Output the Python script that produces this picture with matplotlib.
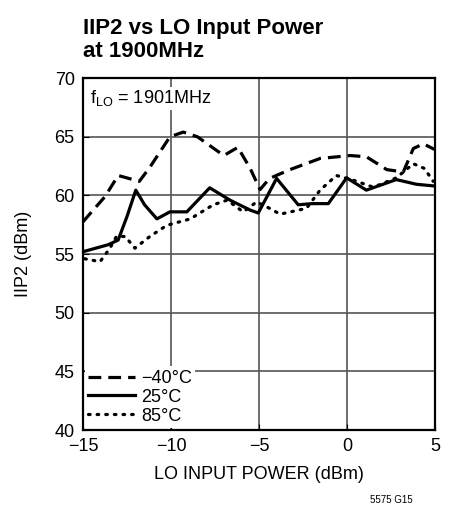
import matplotlib
matplotlib.use("Agg")
import matplotlib.pyplot as plt
from matplotlib import font_manager

# pick a narrow font if available
fams = [f.name for f in font_manager.fontManager.ttflist]
narrow = 'Liberation Sans Narrow' if 'Liberation Sans Narrow' in fams else 'Liberation Sans'
plt.rcParams['font.family'] = [narrow, 'DejaVu Sans']

# -40C (dashed)
x_m40 = [-15, -13.75, -13, -11.8, -11.2, -10.06, -9.3, -8.5, -7.0, -6.2, -5.5, -4.94, -4.4, -3.24, -1.53, 0.17, 1.1, 2.26, 3.2, 3.77, 4.34, 5]
y_m40 = [57.75, 59.9, 61.7, 61.2, 62.4, 65.0, 65.4, 65.0, 63.4, 64.1, 62.3, 60.5, 61.45, 62.2, 63.15, 63.4, 63.3, 62.2, 62.0, 64.0, 64.4, 63.9]

# 25C (solid)
x_25 = [-15, -13.56, -13, -12.5, -12, -11.5, -10.8, -10.06, -9.1, -7.8, -6.65, -5.5, -5.04, -4.0, -2.77, -2.0, -1.06, -0.02, 1.1, 2.8, 3.95, 5]
y_25 = [55.2, 55.8, 56.2, 58.2, 60.45, 59.2, 58.0, 58.6, 58.6, 60.65, 59.6, 58.75, 58.5, 61.45, 59.2, 59.3, 59.3, 61.5, 60.45, 61.35, 60.95, 60.8]

# 85C (dotted)
x_85 = [-14.9, -14.03, -13.47, -13.1, -12.6, -12.05, -11.2, -10.24, -8.9, -7.6, -6.8, -5.9, -5.13, -4.4, -3.8, -2.3, -1.53, -0.6, 0.36, 1.5, 2.8, 3.77, 4.4, 4.9]
y_85 = [54.6, 54.35, 55.5, 56.5, 56.5, 55.5, 56.5, 57.45, 58.0, 59.2, 59.6, 58.6, 59.45, 58.9, 58.4, 58.9, 60.45, 61.7, 61.3, 60.7, 61.5, 62.7, 62.3, 61.2]

fig = plt.figure(figsize=(4.51, 5.14), dpi=100)
ax = fig.add_axes([0.184, 0.1634, 0.7805, 0.6846])

ax.plot(x_m40, y_m40, color='black', lw=2.3, linestyle=(0, (4, 2.2)), label='\u221240\u00b0C')
ax.plot(x_25, y_25, color='black', lw=2.3, label='25\u00b0C')
ax.plot(x_85, y_85, color='black', lw=2.3, linestyle=(0, (0.5, 2.2)), dash_capstyle='round', label='85\u00b0C')

ax.set_xlim(-15, 5)
ax.set_ylim(40, 70)
ax.set_xticks([-15, -10, -5, 0, 5])
ax.set_xticklabels(['\u221215', '\u221210', '\u22125', '0', '5'])
ax.set_yticks(range(40, 71, 5))
ax.grid(True, color='#555555', lw=1.2)
ax.tick_params(direction='in', length=4, labelsize=13, pad=6)
for s in ax.spines.values():
    s.set_linewidth(1.6)

ax.set_xlabel('LO INPUT POWER (dBm)', fontsize=13, labelpad=8)
ax.set_ylabel('IIP2 (dBm)', fontsize=13, labelpad=16)

ax.text(-14.6, 68.3, r'f$_{\mathregular{LO}}$ = 1901MHz', fontsize=13, va='center',
        bbox=dict(facecolor='white', edgecolor='none', pad=1))

leg = ax.legend(loc='lower left', fontsize=13, frameon=True, fancybox=False,
                edgecolor='none', framealpha=1, borderpad=0.2, labelspacing=0.1,
                handlelength=2.6, handletextpad=0.3, borderaxespad=0.1)

fig.text(0.184, 0.922, 'IIP2 vs LO Input Power\nat 1900MHz', fontsize=16, fontweight='bold',
         ha='left', va='center', linespacing=1.1)
fig.text(0.915, 0.022, '5575 G15', fontsize=7, ha='right')

fig.savefig('out.png', dpi=100)
